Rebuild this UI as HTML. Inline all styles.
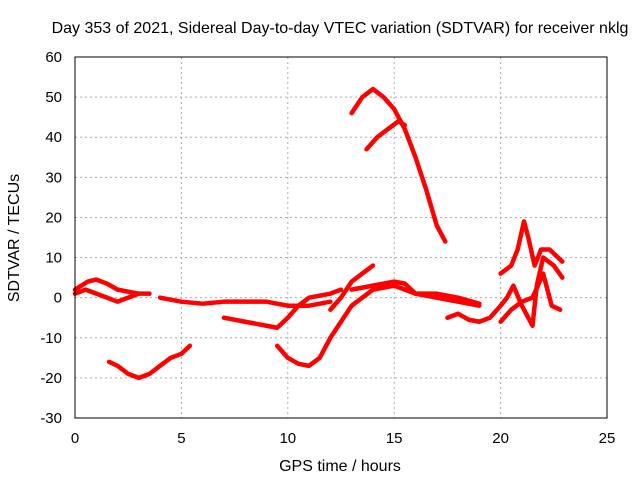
<!DOCTYPE html>
<html><head><meta charset="utf-8"><style>
body{margin:0;background:#fff;font-family:"Liberation Sans",sans-serif}
</style></head><body>
<svg id="c" width="640" height="480" xmlns="http://www.w3.org/2000/svg" font-family="Liberation Sans, sans-serif" font-size="15">
<rect width="640" height="480" fill="#fff"/>
<text x="340" y="33" text-anchor="middle" font-size="16">Day 353 of 2021, Sidereal Day-to-day VTEC variation (SDTVAR) for receiver nklg</text>
<text x="340" y="471" text-anchor="middle" font-size="16">GPS time / hours</text>
<text transform="translate(19,238) rotate(-90)" text-anchor="middle" font-size="16">SDTVAR / TECUs</text>
<g id="grid"></g><g id="series"></g>
<rect x="75" y="57" width="532" height="361" fill="none" stroke="#000"/>
</svg>
<script>
const xTicks=[0,5,10,15,20,25];
const yTicks=[-30,-20,-10,0,10,20,30,40,50,60];
const s1=[[0,2],[0.3,3],[0.6,4],[1,4.5],[1.5,3.5],[2,2],[2.5,1.5],[3,1],[3.5,1]];
const s2=[[0,1],[0.5,2],[1,1],[1.5,0],[2,-1],[2.5,0],[3,1]];
const s3=[[4,0],[5,-1],[6,-1.5],[7,-1],[8,-1],[9,-1],[10,-2],[11,-2],[12,-1]];
const s4=[[7,-5],[8,-6],[9,-7],[9.5,-7.5],[10,-5],[10.5,-2],[11,0],[12,1],[12.5,2]];
const s5=[[1.6,-16],[2,-17],[2.5,-19],[3,-20],[3.5,-19],[4,-17],[4.5,-15],[5,-14],[5.4,-12]];
const s6=[[9.5,-12],[10,-15],[10.5,-16.5],[11,-17],[11.5,-15],[12,-10],[12.5,-6],[13,-2],[13.5,0],[14,2],[15,3],[16,1],[17,0],[18,-1],[19,-2]];
const s7=[[13,46],[13.5,50],[14,52],[14.5,50],[15,47],[15.5,42],[16,35],[16.5,27],[17,18],[17.4,14]];
const s8=[[13.7,37],[14.2,40],[14.7,42],[15.2,44],[15.5,43]];
const s9=[[12,-3],[12.5,0],[13,4],[13.5,6],[14,8]];
const s10=[[13,2],[14,3],[15,4],[15.5,3.5],[16,1],[17,1],[18,0],[19,-1.5]];
const s11=[[17.5,-5],[18,-4],[18.5,-5.5],[19,-6],[19.5,-5],[20,-2],[20.3,0],[20.6,3],[21,-2],[21.3,-5],[21.5,-7],[21.7,3],[22,10],[22.5,8],[22.9,5]];
const s12=[[20,6],[20.5,8],[20.8,12],[21.1,19],[21.3,15],[21.6,8],[21.9,12],[22.3,12],[22.9,9]];
const s13=[[20,-6],[20.5,-3],[21,-1],[21.5,0],[22,6],[22.4,-2],[22.8,-3]];
const allSeries=[s1,s2,s3,s4,s5,s6,s7,s8,s9,s10,s11,s12,s13];
const X=v=>75+v*(532/25), Y=v=>418-(v+30)*(361/90);
const NS='http://www.w3.org/2000/svg';
const g=document.getElementById('grid'), sg=document.getElementById('series');
function mk(t,a,p){const e=document.createElementNS(NS,t);for(const k in a)e.setAttribute(k,a[k]);p.appendChild(e);return e;}
xTicks.forEach(t=>{
 const l=mk('line',{x1:X(t),x2:X(t),y1:57,y2:418,stroke:'#aaa','stroke-dasharray':'2,3'},g);
 
 
 const tx=mk('text',{x:X(t),y:443,'text-anchor':'middle'},g);tx.textContent=t;
 
 
});
yTicks.forEach(t=>{
 const l=mk('line',{x1:75,x2:607,y1:Y(t),y2:Y(t),stroke:'#aaa','stroke-dasharray':'2,3'},g);
 
 
 const tx=mk('text',{x:62,y:Y(t)+5,'text-anchor':'end'},g);tx.textContent=t;
 
 
});
allSeries.forEach((s,i)=>{
 const p=mk('polyline',{points:s.map(d=>X(d[0])+','+Y(d[1])).join(' '),fill:'none',stroke:'#f00','stroke-width':4.5,'stroke-linejoin':'round','stroke-linecap':'round'},sg);
 
 
});
</script>
</body></html>
